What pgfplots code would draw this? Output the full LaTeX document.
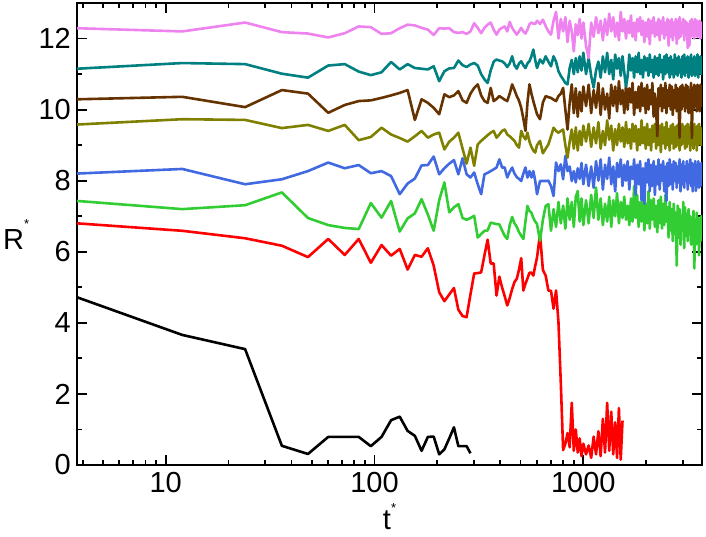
\documentclass[border=0pt]{standalone}
\usepackage{fontspec}
\setmainfont{Liberation Sans}
\usepackage{pgfplots}
\usepackage{pgfplotstable}
\pgfplotsset{compat=1.18}
\definecolor{cviolet}{RGB}{238,130,238}
\definecolor{cteal}{RGB}{0,128,128}
\definecolor{cbrown}{RGB}{102,51,0}
\definecolor{colive}{RGB}{128,128,0}
\definecolor{cblue}{RGB}{65,105,225}
\definecolor{cgreen}{RGB}{50,205,50}
\pgfplotstableread{
t k r g b o n c v
3.76 4.72 6.80 7.43 8.20 9.58 10.29 11.15 12.29
12 3.66 6.59 7.20 8.33 9.73 10.36 11.31 12.20
24 3.26 6.38 7.31 7.90 9.71 10.07 11.28 12.45
36 0.54 6.17 7.67 8.04 9.48 10.55 11.01 12.18
48 0.31 5.85 6.95 8.27 9.57 10.45 10.90 12.14
60 0.79 6.36 6.75 8.51 9.40 9.91 11.24 12.03
72 0.79 5.91 6.67 8.35 9.57 10.13 11.28 12.15
84 0.79 6.36 6.64 8.44 9.14 10.24 11.07 12.34
96 0.53 5.69 7.37 8.21 9.23 10.26 10.97 12.32
108 0.79 6.19 6.96 8.27 9.49 10.33 11.05 12.13
120 1.26 5.89 7.43 8.13 9.30 10.40 11.34 12.15
132 1.36 6.08 6.57 7.62 9.20 10.47 11.13 12.29
144 0.96 5.50 6.94 7.92 9.10 10.55 11.28 12.39
156 0.82 5.91 7.08 8.06 9.25 9.71 11.17 12.37
168 0.40 5.86 7.48 8.43 9.40 10.29 11.15 12.30
180 0.79 6.10 7.05 8.44 9.21 10.19 11.13 12.25
192 0.80 5.61 6.59 8.68 9.30 10.05 11.22 12.10
204 0.30 4.86 7.45 8.18 9.35 9.87 10.80 12.29
216 0.44 4.61 7.95 8.35 8.88 10.43 11.08 12.28
228 0.75 4.80 7.11 8.48 9.10 10.35 11.16 12.29
240 1.06 4.98 7.25 8.58 9.21 10.40 11.17 12.18
252 0.53 4.37 7.34 8.18 9.35 10.52 11.38 12.16
264 0.53 4.19 6.95 8.63 8.90 10.26 11.25 12.18
276 0.53 4.16 6.90 8.18 8.48 10.19 11.20 12.13
288 0.33 4.80 6.95 8.09 8.93 10.45 11.27 12.20
300 nan 5.39 7.01 8.23 8.42 10.61 11.31 12.43
312 nan 5.40 6.40 7.90 9.02 10.71 11.24 12.30
324 nan 5.42 6.50 7.62 9.12 10.40 11.00 12.15
336 nan 5.90 6.59 8.18 9.20 10.24 10.85 12.30
348 nan 6.34 6.60 8.22 9.28 10.19 10.75 12.39
360 nan 5.67 6.82 8.27 9.35 10.61 11.10 12.45
372 nan 5.67 6.80 8.32 9.40 10.24 11.35 12.25
384 nan 4.77 6.78 8.37 9.21 10.30 11.41 12.11
396 nan 5.30 6.77 8.60 9.30 10.38 11.38 12.25
408 nan 5.00 6.60 8.37 9.40 10.33 11.36 12.30
420 nan 4.75 6.45 8.37 9.44 10.28 11.30 12.34
432 nan 4.49 6.36 8.09 9.30 10.24 11.20 12.20
444 nan 4.70 6.75 8.25 9.25 10.45 11.30 12.47
456 nan 4.95 6.98 8.37 9.18 10.71 11.50 12.30
468 nan 5.15 6.80 8.20 9.12 10.55 11.25 12.20
480 nan 5.24 6.70 8.10 9.00 10.38 11.15 12.11
492 nan 5.50 6.55 8.05 8.93 10.25 11.30 12.20
504 nan 5.82 6.45 7.99 9.40 10.05 11.36 12.30
516 nan 4.91 6.36 8.20 9.25 9.75 11.25 12.20
528 nan 5.10 6.85 8.37 9.16 9.40 11.17 12.14
540 nan 5.25 7.29 8.09 9.35 10.20 11.30 12.25
552 nan 5.41 7.15 8.27 9.10 10.71 11.36 12.40
564 nan 5.41 7.10 8.09 8.95 10.45 11.50 12.45
576 nan 5.33 6.95 8.27 8.85 10.24 11.69 12.42
588 nan 5.60 6.85 8.00 8.79 10.05 11.40 12.41
600 nan 5.84 6.78 7.62 9.00 9.87 11.17 12.50
620 nan 6.50 6.31 7.99 9.12 9.73 11.41 12.41
640 nan 5.49 6.90 7.99 8.77 10.20 11.30 12.53
660 nan 5.33 7.29 7.99 8.90 10.38 11.50 12.35
680 nan 4.91 7.34 8.00 9.02 10.35 11.35 12.20
700 nan 4.90 6.59 7.85 9.25 10.33 11.22 12.11
720 nan 4.40 7.20 7.57 9.49 10.28 11.50 12.50
740 nan 4.91 6.70 8.51 9.40 10.24 11.35 12.75
760 nan 4.02 7.40 8.27 9.35 10.38 11.08 12.00
780 nan 2.30 6.80 8.46 9.40 10.45 10.95 12.55
800 nan 0.42 7.30 8.04 9.44 10.61 10.85 12.20
820 nan 0.60 6.65 8.70 9.00 10.00 10.75 12.60
840 nan 0.90 7.50 8.27 8.65 9.44 10.71 11.90
860 nan 0.50 6.90 8.40 9.10 10.20 11.17 12.50
880 nan 1.75 7.40 7.99 9.44 10.71 11.40 12.20
900 nan 0.40 6.70 8.27 8.90 9.90 11.00 11.64
920 nan 1.00 7.55 7.95 9.50 10.60 11.45 12.40
940 nan 0.35 7.71 8.35 8.85 9.80 11.05 12.10
960 nan 0.75 6.85 8.05 9.40 10.50 11.50 12.55
980 nan 0.25 7.50 8.50 9.00 9.95 11.10 12.00
1000 nan 0.60 6.75 7.90 9.55 10.65 11.60 12.45
1030 nan 0.30 7.45 8.45 9.10 10.10 11.00 11.80
1060 nan 0.55 6.80 7.85 9.60 10.70 11.45 11.45
1090 nan 0.20 7.60 8.40 8.95 9.90 10.95 12.45
1120 nan 0.80 6.95 7.80 9.50 10.55 10.62 12.05
1150 nan 0.30 7.81 8.55 9.05 10.05 11.10 12.60
1180 nan 0.95 6.90 8.00 9.65 10.75 11.35 12.15
1210 nan 0.25 7.50 8.60 8.90 9.85 10.90 12.50
1240 nan 1.30 6.75 7.75 9.40 10.60 11.50 11.95
1270 nan 0.35 7.35 8.45 9.00 10.00 11.05 12.55
1300 nan 1.75 6.85 8.05 9.70 10.45 11.60 12.10
1330 nan 0.40 7.55 8.65 9.15 9.75 11.00 12.70
1360 nan 1.50 6.70 7.90 9.55 10.70 11.40 12.20
1390 nan 0.30 7.45 8.40 8.85 10.10 10.85 12.60
1420 nan 1.20 7.00 7.70 9.45 10.65 11.55 12.05
1450 nan 0.20 7.65 8.50 9.00 9.95 11.15 12.45
1480 nan 1.60 6.80 8.10 9.60 10.80 11.45 11.95
1510 nan 0.15 7.40 8.60 9.10 10.15 10.95 12.75
1540 nan 1.25 6.95 7.85 9.50 10.55 11.50 12.20
1570 nan nan 7.55 8.45 8.95 9.90 11.05 12.55
1600 nan nan 6.90 8.00 9.65 10.70 10.65 12.00
1630 nan nan 7.30 8.55 9.05 10.00 10.95 12.50
1660 nan nan 6.75 7.75 9.45 10.60 11.55 12.15
1690 nan nan 7.50 8.40 8.90 10.20 11.10 12.65
1720 nan nan 6.85 8.05 9.60 10.75 11.45 12.05
1750 nan nan 7.85 8.60 9.10 9.85 10.90 12.45
1780 nan nan 6.95 7.60 9.55 10.50 11.50 11.95
1810 nan nan 7.60 8.45 8.85 10.05 11.05 12.55
1840 nan nan 6.70 7.90 9.45 10.65 11.60 12.20
1870 nan nan 7.40 8.55 9.00 9.95 11.00 12.60
1900 nan nan 6.85 7.45 9.70 10.75 11.40 12.10
1930 nan nan 7.55 8.35 9.05 10.10 10.90 12.50
1960 nan nan 6.60 7.35 9.50 10.60 11.50 11.90
1990 nan nan 7.35 8.50 8.90 9.90 11.10 12.45
2020 nan nan 6.80 7.95 9.60 10.70 11.45 12.05
2050 nan nan 7.70 8.60 9.00 10.00 10.95 12.55
2080 nan nan 6.65 7.70 9.45 10.55 11.55 11.84
2110 nan nan 7.45 8.45 8.85 10.15 11.05 12.50
2140 nan nan 6.90 7.85 9.55 10.75 11.40 12.15
2170 nan nan 7.50 8.55 9.10 9.80 10.90 12.60
2200 nan nan 6.70 7.60 9.60 10.45 11.50 12.05
2230 nan nan 7.30 8.40 8.90 10.00 11.00 12.45
2260 nan nan 6.55 7.90 9.45 9.25 11.45 12.10
2290 nan nan 7.45 8.60 9.00 10.60 10.95 12.55
2320 nan nan 6.80 7.75 9.55 10.10 11.55 11.95
2350 nan nan 7.55 8.45 8.80 10.70 11.05 12.50
2380 nan nan 6.65 8.00 9.60 9.95 11.40 12.15
2410 nan nan 7.35 8.55 9.05 10.60 10.85 12.60
2440 nan nan 6.75 7.70 9.50 10.05 11.50 12.00
2470 nan nan 7.60 8.40 8.90 10.75 11.00 12.45
2500 nan nan 6.85 7.43 9.65 9.90 11.55 12.10
2530 nan nan 7.25 8.50 9.00 10.55 11.05 12.55
2560 nan nan 6.40 7.85 9.45 10.10 11.45 11.80
2590 nan nan 7.40 8.60 8.85 10.70 10.90 12.50
2620 nan nan 6.60 7.90 9.55 10.00 11.50 12.05
2650 nan nan 7.20 8.45 9.05 10.65 11.00 12.55
2680 nan nan 6.30 7.75 9.60 9.85 11.40 11.95
2710 nan nan 7.35 8.55 8.90 10.55 10.90 12.45
2740 nan nan 6.50 8.00 9.50 10.05 11.55 12.10
2770 nan nan 7.10 8.50 8.95 10.70 11.00 12.55
2800 nan nan 5.61 7.80 9.55 9.95 11.45 11.85
2830 nan nan 7.30 8.40 9.00 10.60 10.95 12.50
2860 nan nan 6.40 7.95 9.60 10.10 11.50 12.00
2890 nan nan 7.20 8.60 8.85 9.21 11.05 12.60
2920 nan nan 6.20 7.70 9.45 10.65 11.40 12.05
2950 nan nan 7.00 8.45 9.00 10.00 10.90 12.45
2980 nan nan 6.60 7.90 9.60 10.70 11.50 12.15
3010 nan nan 7.40 8.55 9.05 10.10 11.00 12.55
3040 nan nan 6.10 7.80 9.50 10.60 11.55 11.95
3070 nan nan 7.25 8.40 8.90 9.95 10.95 12.50
3100 nan nan 6.45 8.00 9.55 10.70 11.45 12.10
3130 nan nan 7.05 8.55 8.95 10.05 11.05 12.45
3160 nan nan 6.30 7.75 9.60 10.65 11.50 11.73
3190 nan nan 7.20 8.45 9.05 9.90 10.90 12.40
3220 nan nan 6.50 7.95 9.50 10.55 11.45 11.80
3250 nan nan 7.00 8.60 8.85 10.10 11.00 12.50
3280 nan nan 6.20 7.85 9.65 10.75 11.55 12.05
3310 nan nan 6.95 8.50 9.00 9.20 10.95 12.55
3340 nan nan 6.40 7.70 9.55 10.60 11.40 12.10
3370 nan nan 7.15 8.45 8.90 10.00 11.00 12.45
3400 nan nan 5.53 8.00 9.60 10.70 11.50 12.00
3430 nan nan 6.90 8.55 9.05 10.10 10.95 12.55
3460 nan nan 6.20 7.71 9.50 10.65 11.45 12.15
3490 nan nan 7.10 8.40 8.85 9.95 11.00 12.50
3520 nan nan 6.45 7.95 9.55 10.70 11.55 12.05
3550 nan nan 6.95 8.55 9.00 10.05 10.90 12.45
3580 nan nan 5.90 7.80 9.60 10.60 11.40 12.10
3610 nan nan 6.80 8.45 9.10 9.95 11.05 12.50
3640 nan nan 6.30 7.85 9.50 10.70 11.50 12.00
3670 nan nan 7.00 8.50 9.00 10.10 11.00 12.45
3700 nan nan 6.50 8.05 9.40 10.50 11.30 12.30
}\dat

\begin{document}
\begin{tikzpicture}
\begin{axis}[
  name=ax,
  at={(0,0)}, anchor=south west,
  scale only axis, width=625pt, height=462pt,
  xmode=log, log basis x=10,
  xmin=3.76, xmax=3700, ymin=0, ymax=13,
  axis line style={line width=2pt},
  xtick={10,100,1000}, xticklabels={10,100,1000},
  minor xtick={4,5,6,7,8,9,20,30,40,50,60,70,80,90,200,300,400,500,600,700,800,900,2000,3000},
  ytick={0,2,4,6,8,10,12}, yticklabels={0,2,4,6,8,10,12},
  minor ytick={1,3,5,7,9,11},
  tick align=inside,
  major tick length=10pt, minor tick length=5pt,
  tick style={line width=1.8pt, black},
  tick label style={font=\fontsize{29}{29}\selectfont},
  xticklabel style={inner sep=0pt, yshift=-7pt},
  yticklabel style={inner sep=0pt, xshift=-6pt},
  every axis plot/.append style={line width=2.6pt, line join=round},
]
\addplot[black, no markers] table[x=t, y=k]{\dat};
\addplot[red, no markers] table[x=t, y=r]{\dat};
\addplot[cgreen, no markers] table[x=t, y=g]{\dat};
\addplot[cblue, no markers] table[x=t, y=b]{\dat};
\addplot[colive, no markers] table[x=t, y=o]{\dat};
\addplot[cbrown, no markers] table[x=t, y=n]{\dat};
\addplot[cteal, no markers] table[x=t, y=c]{\dat};
\addplot[cviolet, no markers] table[x=t, y=v]{\dat};
\end{axis}
\node[anchor=base west, inner sep=0pt, font=\fontsize{29}{29}\selectfont] at ([xshift=-74pt, yshift=-16pt]ax.west) {R\raisebox{21pt}{\fontsize{13}{13}\selectfont *}};
\node[anchor=base, inner sep=0pt, font=\fontsize{29}{29}\selectfont] at ([yshift=-65pt]ax.south) {t\raisebox{17pt}{\fontsize{13}{13}\selectfont *}};
\path ([xshift=-77pt, yshift=-72pt]ax.south west) rectangle ([xshift=4pt, yshift=3pt]ax.north east);
\end{tikzpicture}
\end{document}
